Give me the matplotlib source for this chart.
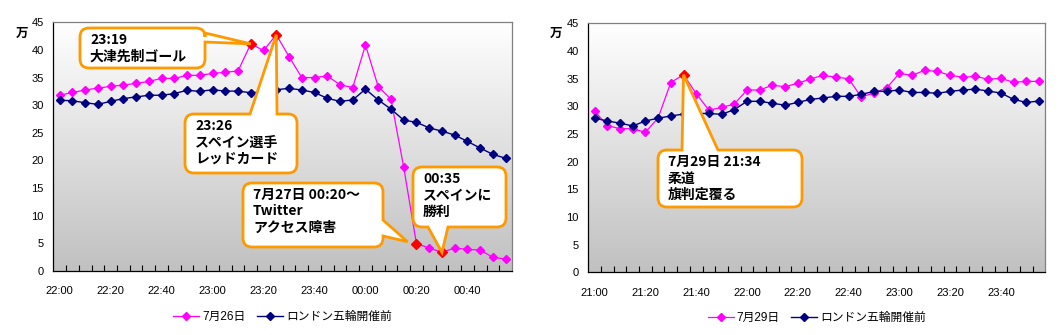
import numpy as np
import matplotlib
matplotlib.use('Agg')
import matplotlib.pyplot as plt
from matplotlib.path import Path
from matplotlib.patches import PathPatch
from matplotlib.transforms import IdentityTransform

plt.rcParams['font.family'] = ['Liberation Sans', 'Noto Sans CJK JP']

# ---------------- data ----------------
left_ticklabels = ['22:00', '22:20', '22:40', '23:00', '23:20', '23:40', '00:00', '00:20', '00:40']
right_ticklabels = ['21:00', '21:20', '21:40', '22:00', '22:20', '22:40', '23:00', '23:20', '23:40']

left_event = [31.8, 32.3, 32.75, 33.1, 33.4, 33.65, 33.95, 34.3, 34.85, 34.85,
              35.4, 35.4, 35.75, 35.95, 36.2, 41.1, 39.9, 42.75, 38.8, 35.0,
              35.0, 35.3, 33.7, 33.2, 40.9, 33.35, 31.1, 18.8, 4.95, 4.16,
              3.38, 4.16, 3.9, 3.8, 2.47, 2.17]
left_base = [30.9, 30.8, 30.45, 30.15, 30.7, 31.2, 31.5, 31.8, 31.8, 32.1,
             32.7, 32.5, 32.8, 32.55, 32.55, 32.25, 32.4, 32.8, 33.05, 32.75,
             32.3, 31.25, 30.7, 30.95, 32.9, 30.95, 29.3, 27.3, 26.9, 25.9,
             25.3, 24.6, 23.45, 22.25, 21.1, 20.4]
left_highlight = [15, 17, 28, 30]

right_event = [29.15, 26.5, 25.95, 25.95, 25.3, 27.9, 34.3, 35.7, 32.3, 29.3,
               29.8, 30.4, 32.95, 32.95, 33.8, 33.55, 34.15, 34.95, 35.6, 35.25,
               35.0, 31.7, 32.4, 33.3, 35.95, 35.6, 36.5, 36.3, 35.6, 35.25,
               35.4, 34.9, 35.05, 34.35, 34.5, 34.5]
right_base = [27.85, 27.35, 26.95, 26.45, 27.35, 27.85, 28.25, 28.6, 28.7, 28.7,
              28.55, 29.4, 30.9, 30.9, 30.55, 30.2, 30.7, 31.25, 31.5, 31.8,
              31.8, 32.15, 32.7, 32.7, 32.95, 32.5, 32.5, 32.35, 32.7, 32.95,
              33.1, 32.75, 32.4, 31.25, 30.7, 30.95]
right_highlight = [7]

left_event_name = '7月26日'
right_event_name = '7月29日'
base_name = 'ロンドン五輪開催前'

# ---------------- style ----------------
W, H = 1060, 335
PINK = '#FF00FF'
NAVY = '#000080'
ORANGE = '#FF9900'

fig = plt.figure(figsize=(W / 100, H / 100), dpi=100)
fig.patch.set_facecolor('white')

ax1 = fig.add_axes([53.3 / W, (H - 271) / H, (512 - 53.3) / W, (271 - 22.3) / H])
ax2 = fig.add_axes([588.3 / W, (H - 272.3) / H, (1045.3 - 588.3) / W, (272.3 - 23.3) / H])

grad = np.linspace(1.0, 0.755, 256).reshape(-1, 1)
grad_img = np.dstack([grad, grad, grad])


def setup(ax, event, base, highlight, ticklabels, event_name):
    n = len(event)
    x = np.arange(n)
    ax.imshow(grad_img, extent=[0, 1, 0, 1], transform=ax.transAxes,
              aspect='auto', zorder=0, interpolation='bilinear')
    ax.plot(x, event, color=PINK, lw=0.9, marker='D', ms=4.2, mec=PINK, mfc=PINK,
            zorder=3, label=event_name)
    ax.plot(x, base, color=NAVY, lw=1.0, marker='D', ms=4.2, mec=NAVY, mfc=NAVY,
            zorder=3, label=base_name)
    hx = np.array(highlight)
    ax.plot(hx, np.array(event)[hx], linestyle='none', marker='D', ms=5.2,
            color='#FF0000', mec='#FF0000', zorder=4)
    ax.set_xlim(-0.5, n - 0.5)
    ax.set_ylim(0, 45)
    ax.set_yticks(range(0, 46, 5))
    ax.set_xticks(np.arange(0, n, 4))
    ax.set_xticklabels(ticklabels)
    ax.set_xticks(np.arange(0.5, n - 1, 1), minor=True)
    ax.tick_params(axis='y', length=0, pad=7, labelsize=8)
    ax.tick_params(axis='x', which='major', length=0, pad=11, labelsize=8)
    ax.tick_params(axis='x', which='minor', direction='in', length=4, width=0.8,
                   color='black')
    for s in ['top', 'right']:
        ax.spines[s].set_color('#808080')
        ax.spines[s].set_linewidth(0.9)
    for s in ['left', 'bottom']:
        ax.spines[s].set_color('black')
        ax.spines[s].set_linewidth(0.9)
    ax.legend(loc='center', bbox_to_anchor=(0.5, -0.185), ncol=2,
              frameon=False, fontsize=8.5, handlelength=2.2,
              handletextpad=0.25, columnspacing=1.0, markerscale=1.0)
    return ax


setup(ax1, left_event, left_base, left_highlight, left_ticklabels, left_event_name)
setup(ax2, right_event, right_base, right_highlight, right_ticklabels, right_event_name)

fig.text(22 / W, 1 - 33 / H, '万', fontsize=9, fontweight='bold',
         family=['Noto Sans CJK JP'], ha='center', va='center')
fig.text(556 / W, 1 - 33 / H, '万', fontsize=9, fontweight='bold',
         family=['Noto Sans CJK JP'], ha='center', va='center')


def callout(ax, box, side, b1, b2, tip, text):
    """box=(x0, y_top, x1, y_bottom) in reference pixels (y from top)."""
    x0, ytop, x1, ybot = box
    yt = H - ytop
    yb = H - ybot
    r = 9
    tx, ty = ax.transData.transform(tip)
    verts, codes = [], []

    def mv(p):
        verts.append(p); codes.append(Path.MOVETO)

    def ln(p):
        verts.append(p); codes.append(Path.LINETO)

    def cv(c, p):
        verts.extend([c, p]); codes.extend([Path.CURVE3, Path.CURVE3])

    mv((x0 + r, yb))
    if side == 'bottom':
        ln((min(b1, b2), yb)); ln((tx, ty)); ln((max(b1, b2), yb))
    ln((x1 - r, yb))
    cv((x1, yb), (x1, yb + r))
    if side == 'right':
        lo, hi = sorted([H - b1, H - b2])
        ln((x1, lo)); ln((tx, ty)); ln((x1, hi))
    ln((x1, yt - r))
    cv((x1, yt), (x1 - r, yt))
    if side == 'top':
        ln((max(b1, b2), yt)); ln((tx, ty)); ln((min(b1, b2), yt))
    ln((x0 + r, yt))
    cv((x0, yt), (x0, yt - r))
    ln((x0, yb + r))
    cv((x0, yb), (x0 + r, yb))
    verts.append((x0 + r, yb)); codes.append(Path.CLOSEPOLY)
    patch = PathPatch(Path(verts, codes), transform=IdentityTransform(),
                      facecolor='white', edgecolor=ORANGE, lw=2.0,
                      joinstyle='miter', zorder=5)
    fig.add_artist(patch)
    fig.text((x0 + 10) / W, 1 - (ytop + 5) / H, text, fontsize=10,
             fontweight='bold', family=['Noto Sans CJK JP'], ha='left',
             va='top', linespacing=1.22, zorder=6)


callout(ax1, (80, 28, 205, 68), 'right', 33, 42, (15, left_event[15]),
        '23:19\n大津先制ゴール')
callout(ax1, (185, 114, 297, 173), 'top', 250, 277, (17, left_event[17]),
        '23:26\nスペイン選手\nレッドカード')
callout(ax1, (243, 183, 383, 247), 'right', 220, 236, (27.3, 5.3),
        '7月27日 00:20〜\nTwitter\nアクセス障害')
callout(ax1, (413, 167, 506, 227), 'bottom', 428, 448, (30, left_event[30]),
        '00:35\nスペインに\n勝利')
callout(ax2, (658, 150, 802, 207), 'top', 682, 718, (7, right_event[7]),
        '7月29日 21:34\n柔道\n旗判定覆る')

fig.savefig('out.png', dpi=100)
